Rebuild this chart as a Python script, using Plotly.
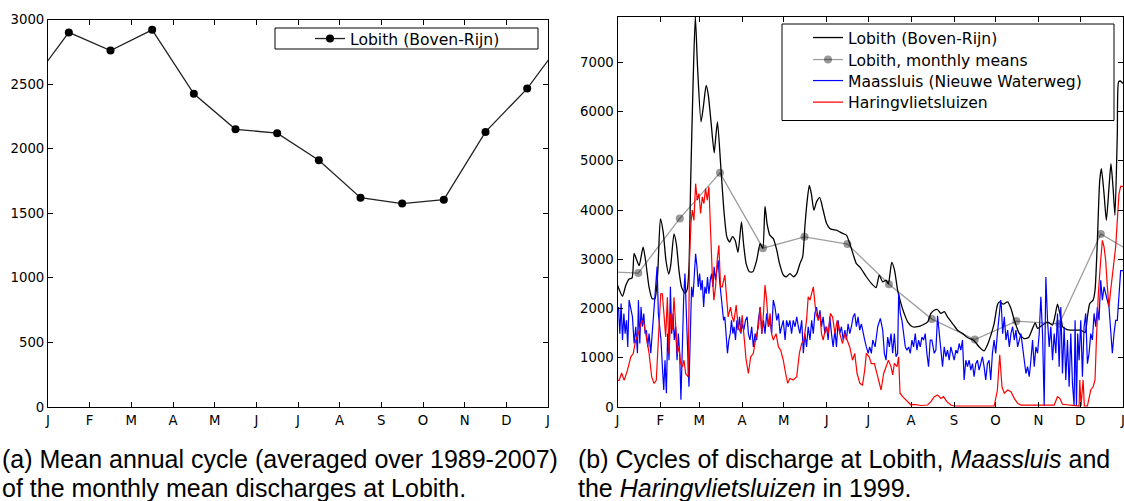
import plotly.graph_objects as go

W, H = 1124, 501

def fx(p):
    return p / W

def fy(p):
    return 1 - p / H

month_labels = ["J", "F", "M", "A", "M", "J", "J", "A", "S", "O", "N", "D", "J"]

# ---------------- (a) mean annual cycle at Lobith ----------------
mean_cycle = [2900, 2760, 2920, 2425, 2150, 2120, 1910, 1620, 1575, 1605, 2130, 2465]
cycle_x = [-0.5] + [i + 0.5 for i in range(12)] + [12.5]
cycle_y = [mean_cycle[-1]] + mean_cycle + [mean_cycle[0]]

# ---------------- (b) 1999 daily discharges ----------------
month_start_days = [0, 31, 59, 90, 120, 151, 181, 212, 243, 273, 304, 334, 365]

lob_days = [0, 1, 3.6, 6, 8.4, 10.5, 12, 13.7, 15.6, 18.5, 20.4, 22.8, 25, 27, 29, 31, 33, 35, 37, 38.4,
            40.8, 42.5, 44.4, 46.3, 48.7, 50.4, 51.6, 52.8, 54.5, 56.2, 57.8, 60.3, 62, 64, 65.5, 67.5,
            69.8, 71, 72.2, 74.6, 77, 79, 81, 83, 85, 87, 89.5, 91, 92.9, 95.3, 97.7, 100.5, 103, 104.9,
            106.5, 108, 110, 112.5, 115, 117, 119.7, 122, 124.5, 127, 129.4, 131.7, 133.7, 135.3, 137,
            138.5, 140, 141.8, 143.7, 146, 148.5, 151, 153.3, 155.7, 158.1, 160.5, 163, 165.3, 167.7,
            170, 172.5, 174.9, 177.4, 179.7, 183.3, 186.7, 189, 191.5, 194, 195.6, 198, 200, 202.3,
            204.7, 207, 209.5, 213, 216.7, 220.3, 224, 226.3, 228.7, 231, 233.5, 236, 238.3, 241.9,
            245.5, 249, 252.7, 257.5, 261, 264.7, 267.1, 270, 272, 274.3, 275.7, 278.6, 281.7, 284.1,
            286.5, 290.1, 293.7, 296.8, 299.2, 301.6, 303.3, 306.9, 310.5, 314.1, 316, 317.7, 319.4,
            321.3, 324.2, 327.3, 330.9, 334.5, 337.6, 339.3, 341, 343.4, 344.8, 346.5, 348.2, 349.4,
            351.3, 353, 354.9, 356.3, 357.8, 359.2, 360.9, 361.8, 363, 365]
lob_vals = [2480, 2400, 2250, 2470, 2600, 2620, 3120, 3000, 2870, 3245, 2950, 2430, 2200, 2200, 2700, 3820,
            3550, 2975, 2700, 2870, 3515, 3310, 2770, 2430, 2310, 2400, 2840, 4530, 6500, 7930, 6900,
            5790, 6100, 6530, 6350, 5800, 5160, 5500, 5790, 4875, 3935, 3450, 3350, 3460, 3380, 3140,
            3760, 3320, 2910, 2745, 2745, 2980, 3320, 3220, 4075, 3725, 3490, 3420, 3185, 2910, 2680,
            2645, 2710, 2645, 2710, 2910, 3050, 3660, 4200, 4500, 4330, 3995, 4165, 4250, 3995, 3725,
            3625, 3600, 3590, 3555, 3520, 3490, 3320, 3115, 2910, 2845, 2745, 2645, 2510, 2425, 2680,
            2540, 2575, 2500, 2935, 2780, 2370, 2100, 1900, 1730, 1630, 1630, 1665, 1730, 1900, 1965,
            1980, 1900, 1935, 1830, 1695, 1560, 1495, 1410, 1345, 1225, 1140, 1260, 1495, 1700, 2070,
            2135, 2090, 2135, 2000, 1765, 1495, 1390, 1410, 1560, 1710, 1595, 1665, 1730, 1665, 1865,
            2090, 1900, 1630, 1575, 1560, 1560, 1560, 1510, 1830, 2100, 2170, 2370, 3385, 4600, 4840,
            4330, 3790, 4465, 4940, 4465, 3895, 5550, 6600, 6620, 6570]

mm_days = [-16, 15, 45, 74, 105, 135, 166, 196, 227, 258, 288, 319, 349, 380]
mm_vals = [2760, 2720, 3830, 4755, 3225, 3455, 3310, 2495, 1785, 1370, 1745, 1690, 3515, 3000]

maas_days = [0.7, 1.7, 2.6, 3.6, 4.6, 5.5, 6.5, 7.4, 8.4, 9.6, 10.8, 12, 13.2, 14.4, 15.1, 16.1, 17, 18, 19,
             19.9, 20.9, 21.8, 22.8, 24, 25.2, 26.4, 27.6, 28.6, 29.5, 30.5, 31.4, 32.4, 33.4, 34.3,
             35.3, 36.2, 37.2, 38.2, 39.1, 40.1, 41, 42, 43, 43.9, 44.9, 45.8, 46.8, 47.8, 48.7, 49.7,
             50.6, 51.6, 52.6, 53.5, 54.5, 55.4, 56.4, 57.4, 58.3, 59.3, 60.2, 61.2, 62.2, 63.1, 64.1,
             65, 66, 67, 67.9, 68.9, 69.8, 70.8, 71.8, 72.7, 73.7, 74.6, 75.6, 76.6, 77.5, 78.5, 79.4,
             80.4, 81.4, 82.3, 83.3, 84.2, 85.2, 86.2, 87.1, 88.1, 89.1, 90, 91.2, 92.4, 93.6,
             94.5, 95.7, 96.9, 98.1, 99.4, 100.5, 101.7, 103, 104.2, 105.4, 106.5, 107.7, 109, 110.2,
             111.3, 112.5, 113.7, 115, 116.2, 117.4, 118.5, 119.7, 121, 122.1, 123.3, 124.5, 125.7,
             126.9, 128.2, 129.4, 130.6, 131.7, 133, 134.2, 135.3, 136.5, 137.7, 139, 140.2, 141.4,
             142.5, 143.7, 145, 146.2, 147.3, 148.5, 149.7, 151, 152.1, 153.3, 154.5, 155.7, 157,
             158.1, 159.3, 160.5, 161.7, 163, 164.2, 165.3, 166.5, 167.7, 168.9, 170.1, 171.3, 172.5,
             173.7, 174.9, 176.1, 177.3, 178.5, 179.7, 181, 182.1, 183.3, 184.3,
             186, 187.9, 189.8, 191.5, 192.7, 193.9, 195.1, 196.3, 197.5, 198.7, 199.9, 201.1, 202.3,
             203, 204.2, 205.4, 206.6, 207.8, 209, 210.2, 211.4, 212.6, 213.8, 215, 216.2, 217.4,
             218.6, 219.8, 221, 222.2, 223.4, 224.6, 225.8, 227, 228.7, 229.9, 231.1, 232.3, 233.5,
             234.7, 235.9, 237.1, 238.3, 239.5, 240.7, 241.9, 243.1, 244.3, 245.5, 246.7, 247.9, 249.1,
             250.3, 251.5, 252.7, 253.9, 255.1, 256.3, 257.5, 258.7, 259.9, 261.1, 262.3, 263.5, 264.7,
             265.9, 267.1, 268.3, 269.5, 270.7, 271.9, 273.1, 274.3, 275.5, 276.7, 277.2,
             278.1, 279.3, 280.5, 281.7, 282.9, 284.1, 285.3, 286.5, 287.7, 288.9, 290.1, 291.3, 292.5,
             293.7, 294.9, 296.1, 297.3, 298.5, 299.7, 300.9, 302.1, 303.3, 304.5, 305.7, 306.9, 308.1,
             309.3, 310.5, 311.7, 312.9, 314.1, 315.3, 316.5, 317.7, 318.9, 320.1, 321.3, 322.5, 323.7,
             324.9, 326.1, 327.3, 328.5, 329.7, 330.4, 331.4, 332.3, 333.3, 334.5, 335.7, 336.9, 338.1,
             339.3, 340.5, 341.7, 342.9, 344.1, 345.3, 346.5, 347.7, 348.9, 350.1, 351.3, 352.5, 353.7,
             354.9, 356.1, 357.3, 358.5, 359.7, 360.9, 362.1, 363.3, 365]
maas_vals = [2030, 1490, 2100, 1360, 1900, 1490, 1760, 1220, 2170, 1965, 1830, 1290, 1630, 1090, 2170, 1290,
             2030, 1630, 1900, 1490, 1560, 1220, 1490, 1090, 1560, 1900, 2440, 2850, 1900, 1630, 1360, 820,
             345, 950, 280, 1490, 950, 2440, 1490, 1900, 1360, 1630, 950, 1490, 1090, 150, 1490, 2230,
             2710, 1900, 950, 410, 1490, 2440, 2230, 2710, 3110, 2845, 2440, 2710, 2370, 2575, 2030,
             2440, 2300, 2640, 2300, 2575, 2710, 2440, 2845, 2575, 2845, 2980, 2575, 2300, 2030, 1760,
             1830, 1490, 1090, 1360, 1490, 1760, 1490, 1630, 1360, 1760, 1560, 1830, 1490, 1690, 1560,
             1760, 1830,
             1490, 1360, 1630, 1220, 1490, 1360, 1760, 2030, 1490, 1760, 1490, 1900, 1630, 1760, 1490,
             2170, 2030, 1760, 1900, 1490, 1630, 1760, 1360, 1760, 1630, 1760, 1490, 1760, 1630, 1830,
             1630, 1490, 1760, 1090, 1490, 1220, 1630, 1360, 1760, 1490, 1900, 2030, 1760, 1965, 1630,
             1830, 1490, 1630, 1360, 1830, 1490, 1220, 1560, 1220, 1760, 1490, 1630, 1360, 1560, 1360,
             1690, 1490, 1630, 1830, 1900, 1630, 1830, 1560, 1690, 1490, 1360, 1220, 1090, 1220, 1090,
             1360,
             1220, 1630, 1800, 1560, 1090, 950, 1420, 1220, 1490, 1090, 1490, 1020, 1090, 2305, 1900,
             1760, 1490, 1220, 1155, 1220, 1090, 1360, 1220, 1490, 1155, 1360, 1220, 1420, 1360, 1490,
             1090, 820, 1360, 1360, 1090, 1155, 1850, 1490, 1090, 820, 1220, 1020, 1155, 950, 1220,
             1090, 950, 1155, 1090, 1290, 1155, 1360, 550, 950, 820, 950, 750, 880, 615, 880, 950, 750,
             880, 1020, 820, 550, 880, 950, 550, 1090, 1360, 1090, 1490, 1900, 2170, 2030,
             1490, 1830, 1360, 1560, 1220, 1490, 1630, 1360, 1560, 1220, 1360, 1490, 1220, 950, 680,
             820, 615, 950, 1360, 820, 1220, 1090, 1490, 2240, 1490, 20, 2640, 1760, 1220, 1630, 950,
             1490, 1090, 1900, 820, 2030, 680, 1630, 550, 1360, 410, 1490, 480, 20, 1760, 20, 1490, 950,
             1760, 615, 1630, 1900, 880, 1090, 1490, 1360, 1900, 1630, 2030, 1760, 2575, 2170, 2440,
             2300, 2170, 2030, 1560, 1090, 1490, 1760, 1760, 2300, 2770, 2770]

har_days = [0, 1.2, 3, 4.8, 7.2, 9.6, 11.3, 13.2, 15.1, 17.5, 19.2, 20.4, 22.8, 24.7, 26.4, 28, 30, 31.2,
            32.4, 33.6, 34.8, 36, 37.2, 38.4, 39.6, 40.8, 42, 43.2, 44.4, 45.6, 46.8, 48, 49.2, 51, 52, 53,
            54, 55.2, 56.4, 57.6, 58.8, 60, 61.2, 62.4, 63.6, 64.8, 66, 67.2, 68.4, 69.6, 70.8, 72, 73.2,
            74.4, 75.6, 77.5, 78.7, 79.9, 81.6, 82.8, 84, 85.7, 87.1, 88.8, 90, 91.2, 92.9, 94.5, 96.2,
            98.1, 100, 101.8, 103, 104.2, 105.4, 106.5, 107.7, 109, 110.2, 111.3, 112.5, 114.5, 116.2,
            117.8, 119.7, 121.4, 122.9, 124.5, 126.9, 129.4, 131.3, 133, 134.6, 136.5, 137.7, 139, 140.2,
            141.4, 143.3, 145, 146.2, 147.3, 148.5, 150.5, 152.1, 153.8, 155.3, 157, 158.6, 160.5,
            162.5, 164.2, 165.8, 167.7, 169.7, 171.3, 173, 175, 176.9, 178.5, 179.7, 181.7, 183.3,
            185.5, 187.9, 190.3, 192.2, 193.9, 195.6, 197.5, 198.7, 199.9, 201.8, 203, 204, 205.9,
            208.3, 210.7, 211.9, 214.3, 219, 223.9, 226.3, 228.7, 231.1, 233.5, 235.4, 237.8, 240.7,
            243.1, 250, 258, 265, 272, 274.3, 276, 277.6, 279.3, 281.7, 284.1, 286.5, 288.9, 291.3,
            300, 308, 315.3, 317.7, 319.4, 321.3, 326.1, 330.9, 333.3, 333.8, 334.7, 336.2, 337.1,
            339.3, 341.7, 343.4, 344.8, 345.8, 347.2, 348.9, 350.1, 351.3, 352.5, 353.7, 354.9, 356.1,
            357.3, 358.5, 359.7, 360.9, 362.1, 363.3, 365]
har_vals = [540, 540, 690, 540, 750, 1020, 1080, 1360, 1490, 1760, 1690, 1490, 1090, 610, 480, 540, 1490,
            2300, 2300, 1830, 1420, 2230, 1080, 1900, 1560, 2230, 1490, 1080, 1220, 880, 810, 950, 680,
            610, 2980, 3725, 4000, 3790, 4535, 4200, 4335, 3930, 4265, 4130, 4435, 4200, 4470, 3520,
            2710, 2170, 2440, 2980, 3285, 2440, 2440, 2680, 2170, 1830, 2030, 1830, 1730, 2070, 1630,
            1520, 1860, 1490, 950, 680, 1020, 1090, 1420, 1630, 2030, 1490, 1900, 2475, 2170, 1630,
            1900, 1490, 1360, 1490, 1220, 1155, 950, 680, 480, 580, 550, 615, 1090, 1290, 1360, 1760,
            2240, 2170, 2305, 2440, 1900, 1760, 1900, 1490, 1360, 1630, 1490, 1900, 1830, 1490, 1760,
            1490, 1290, 1490, 1360, 1220, 950, 1090, 680, 480, 445, 750, 1090, 1020, 880, 880, 615, 345,
            680, 820, 950, 820, 650, 885, 820, 1020, 280, 210, 140, 75, 40, 55, 30, 40, 110, 210, 245,
            175, 210, 110, 40, 20, 20, 20, 20, 20, 345, 1060, 410, 280, 345, 310, 175, 75, 40, 40, 40,
            40, 210, 175, 55, 40, 20, 20, 550, 20, 550, 20, 20, 345, 410, 550, 1360, 2305, 2980, 3385,
            3250, 2980, 2440, 2030, 2370, 2710, 2910, 3250, 3790, 4330, 4480, 4480]

# ---------------- layout geometry (pixels) ----------------
A_L, A_R, A_T, A_B = 48, 548, 19.5, 407
B_L, B_R, B_T, B_B = 617.5, 1123, 16.5, 407

TICK_FONT = dict(family="DejaVu Sans", size=13.3, color="#000")
LEG_FONT = dict(family="DejaVu Sans", size=15.6, color="#000")
CAP_FONT = dict(family="Liberation Sans", size=25, color="#000")

fig = go.Figure()

fig.add_trace(go.Scatter(
    x=cycle_x, y=cycle_y, mode="lines+markers", name="Lobith (Boven-Rijn)",
    line=dict(color="#222", width=1.3), marker=dict(color="#000", size=8),
    xaxis="x", yaxis="y", legend="legend", cliponaxis=True))

fig.add_trace(go.Scatter(
    x=lob_days, y=lob_vals, mode="lines", name="Lobith (Boven-Rijn)",
    line=dict(color="#000", width=1.3, shape="spline", smoothing=0.6),
    xaxis="x2", yaxis="y2", legend="legend2"))
fig.add_trace(go.Scatter(
    x=mm_days, y=mm_vals, mode="lines+markers", name="Lobith, monthly means",
    line=dict(color="rgba(0,0,0,0.38)", width=1.3), marker=dict(color="rgba(0,0,0,0.4)", size=8),
    xaxis="x2", yaxis="y2", legend="legend3"))
fig.add_trace(go.Scatter(
    x=maas_days, y=maas_vals, mode="lines", name="Maassluis (Nieuwe Waterweg)",
    line=dict(color="#0000ff", width=1.2),
    xaxis="x2", yaxis="y2", legend="legend4"))
fig.add_trace(go.Scatter(
    x=har_days, y=har_vals, mode="lines", name="Haringvlietsluizen",
    line=dict(color="#ff0000", width=1.2),
    xaxis="x2", yaxis="y2", legend="legend5"))

axis_common = dict(showline=True, linecolor="#000", linewidth=1, mirror="ticks", ticks="inside",
                   ticklen=5, tickcolor="#000", showgrid=False, zeroline=False, tickfont=TICK_FONT,
                   fixedrange=True, automargin=False, ticklabeloverflow="allow")

def leg(text_left, center_y):
    return dict(x=fx(text_left - 40), y=fy(center_y - 16.6), xanchor="left", yanchor="top",
                xref="paper", yref="paper", bgcolor="rgba(0,0,0,0)", borderwidth=0, font=LEG_FONT)

fig.update_layout(
    width=W, height=H, margin=dict(l=0, r=0, t=0, b=0, pad=0, autoexpand=False),
    paper_bgcolor="white", plot_bgcolor="white",
    xaxis=dict(domain=[fx(A_L), fx(A_R)], range=[0, 12], tickvals=list(range(13)),
               ticktext=month_labels, anchor="y", ticklabelstandoff=1, **axis_common),
    yaxis=dict(domain=[fy(A_B), fy(A_T)], range=[0, 3000], dtick=500, anchor="x", **axis_common),
    xaxis2=dict(domain=[fx(B_L), fx(B_R)], range=[0, 365], tickvals=month_start_days,
                ticktext=month_labels, anchor="y2", ticklabelstandoff=1, **axis_common),
    yaxis2=dict(domain=[fy(B_B), fy(B_T)], range=[0, 7930], tickvals=[0, 1000, 2000, 3000, 4000, 5000, 6000, 7000],
                anchor="x2", **axis_common),
    showlegend=True,
    legend=leg(350, 38.5),
    legend2=leg(848, 37.5),
    legend3=leg(848, 59.5),
    legend4=leg(848, 80.5),
    legend5=leg(848, 102),
    shapes=[
        dict(type="rect", xref="paper", yref="paper", x0=fx(275), x1=fx(538), y0=fy(49), y1=fy(28),
             line=dict(color="#000", width=1), fillcolor="rgba(0,0,0,0)", layer="below"),
        dict(type="rect", xref="paper", yref="paper", x0=fx(782), x1=fx(1114), y0=fy(120.5), y1=fy(24),
             line=dict(color="#000", width=1), fillcolor="rgba(0,0,0,0)", layer="below"),
    ],
    annotations=[
        dict(x=fx(0), y=fy(459), xref="paper", yref="paper", xanchor="left", yanchor="middle",
             showarrow=False, font=CAP_FONT, text="(a) Mean annual cycle (averaged over 1989-2007)"),
        dict(x=fx(0), y=fy(488), xref="paper", yref="paper", xanchor="left", yanchor="middle",
             showarrow=False, font=CAP_FONT, text="of the monthly mean discharges at Lobith."),
        dict(x=fx(576), y=fy(459), xref="paper", yref="paper", xanchor="left", yanchor="middle",
             showarrow=False, font=CAP_FONT, text="(b) Cycles of discharge at Lobith, <i>Maassluis</i> and"),
        dict(x=fx(576), y=fy(488), xref="paper", yref="paper", xanchor="left", yanchor="middle",
             showarrow=False, font=CAP_FONT, text="the <i>Haringvlietsluizen</i> in 1999."),
    ],
)

fig.write_html("out.html")
